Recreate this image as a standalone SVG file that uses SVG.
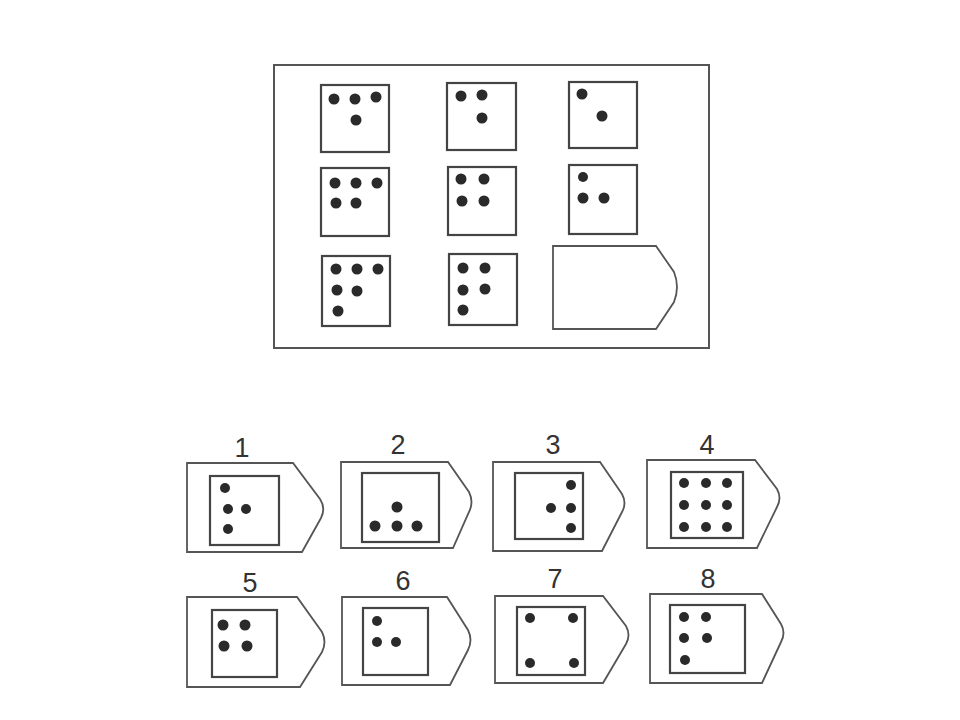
<svg xmlns="http://www.w3.org/2000/svg" width="960" height="720" viewBox="0 0 960 720">
<style>
.frame{fill:#fff;stroke:#555;stroke-width:2}
.sq{fill:#fff;stroke:#444;stroke-width:2.2}
.tag{fill:#fff;stroke:#555;stroke-width:1.8}
.d{fill:#2a2a2a}
.lbl{font-family:"Liberation Sans",Arial,sans-serif;font-size:27px;fill:#333;text-anchor:middle}
</style>
<rect width="960" height="720" fill="#fff"/>
<g id="matrix">
<rect class="frame" x="274" y="65" width="435" height="283"/>
<g id="m11"><rect class="sq" x="321" y="85" width="68" height="67"/>
<circle class="d" cx="334" cy="99" r="5.5"/><circle class="d" cx="355" cy="99" r="5.5"/><circle class="d" cx="376" cy="97" r="5.5"/><circle class="d" cx="356" cy="120" r="5.5"/></g>
<g id="m12"><rect class="sq" x="447" y="83" width="69" height="67"/>
<circle class="d" cx="461" cy="96" r="5.5"/><circle class="d" cx="482" cy="95" r="5.5"/><circle class="d" cx="482" cy="118" r="5.5"/></g>
<g id="m13"><rect class="sq" x="569" y="82" width="68" height="66"/>
<circle class="d" cx="582" cy="94" r="5.5"/><circle class="d" cx="602" cy="116" r="5.5"/></g>
<g id="m21"><rect class="sq" x="321" y="168" width="68" height="68"/>
<circle class="d" cx="335" cy="183" r="5.5"/><circle class="d" cx="356" cy="183" r="5.5"/><circle class="d" cx="377" cy="183" r="5.5"/><circle class="d" cx="336" cy="203" r="5.5"/><circle class="d" cx="356" cy="203" r="5.5"/></g>
<g id="m22"><rect class="sq" x="448" y="167" width="68" height="68"/>
<circle class="d" cx="461" cy="179" r="5.5"/><circle class="d" cx="484" cy="179" r="5.5"/><circle class="d" cx="462" cy="201" r="5.5"/><circle class="d" cx="484" cy="201" r="5.5"/></g>
<g id="m23"><rect class="sq" x="569" y="165" width="68" height="69"/>
<circle class="d" cx="583" cy="177" r="5"/><circle class="d" cx="583" cy="198" r="5.5"/><circle class="d" cx="604" cy="198" r="5.5"/></g>
<g id="m31"><rect class="sq" x="322" y="256" width="68" height="70"/>
<circle class="d" cx="336" cy="269" r="5.5"/><circle class="d" cx="357" cy="269" r="5.5"/><circle class="d" cx="378" cy="269" r="5.5"/><circle class="d" cx="337" cy="290" r="5.5"/><circle class="d" cx="357" cy="291" r="5.5"/><circle class="d" cx="338" cy="311" r="5.5"/></g>
<g id="m32"><rect class="sq" x="449" y="254" width="68" height="71"/>
<circle class="d" cx="463" cy="268" r="5.5"/><circle class="d" cx="485" cy="268" r="5.5"/><circle class="d" cx="463" cy="290" r="5.5"/><circle class="d" cx="485" cy="289" r="5.5"/><circle class="d" cx="463" cy="310" r="5.5"/></g>
<g id="m33"><path class="tag" d="M553,246 H656 L674,272 Q680,287 674,302 L656,329 H553 Z"/></g>
</g>
<g id="opt1"><text class="lbl" x="242" y="457">1</text>
<path class="tag" d="M187,463 H293 L320,499 Q326,508 321,518 L302,552 H187 Z"/>
<rect class="sq" x="210" y="476" width="69" height="69"/>
<circle class="d" cx="225" cy="488" r="5"/><circle class="d" cx="228" cy="509" r="5"/><circle class="d" cx="246" cy="509" r="5"/><circle class="d" cx="228" cy="529" r="5"/></g>
<g id="opt2"><text class="lbl" x="398" y="454">2</text>
<path class="tag" d="M341,462 H448 L469,492 Q474,502 469,512 L453,548 H341 Z"/>
<rect class="sq" x="362" y="473" width="77" height="69"/>
<circle class="d" cx="397" cy="507" r="5.5"/><circle class="d" cx="375" cy="526" r="5.5"/><circle class="d" cx="397" cy="526" r="5.5"/><circle class="d" cx="417" cy="526" r="5.5"/></g>
<g id="opt3"><text class="lbl" x="553" y="454">3</text>
<path class="tag" d="M493,462 H600 L622,494 Q627,503 622,512 L602,551 H493 Z"/>
<rect class="sq" x="515" y="473" width="68" height="66"/>
<circle class="d" cx="571" cy="485" r="5"/><circle class="d" cx="551" cy="508" r="5"/><circle class="d" cx="571" cy="508" r="5"/><circle class="d" cx="571" cy="528" r="5"/></g>
<g id="opt4"><text class="lbl" x="707" y="454">4</text>
<path class="tag" d="M647,460 H755 L777,489 Q782,498 777,507 L757,548 H647 Z"/>
<rect class="sq" x="671" y="472" width="72" height="66"/>
<circle class="d" cx="684" cy="483" r="5"/><circle class="d" cx="706" cy="483" r="5"/><circle class="d" cx="727" cy="483" r="5"/>
<circle class="d" cx="684" cy="505" r="5"/><circle class="d" cx="706" cy="505" r="5"/><circle class="d" cx="727" cy="505" r="5"/>
<circle class="d" cx="684" cy="527" r="5"/><circle class="d" cx="706" cy="527" r="5"/><circle class="d" cx="727" cy="527" r="5"/></g>
<g id="opt5"><text class="lbl" x="250" y="592">5</text>
<path class="tag" d="M187,597 H297 L322,632 Q327,642 322,652 L300,687 H187 Z"/>
<rect class="sq" x="212" y="610" width="65" height="67"/>
<circle class="d" cx="223" cy="625" r="5.5"/><circle class="d" cx="245" cy="625" r="5.5"/><circle class="d" cx="224" cy="646" r="5.5"/><circle class="d" cx="247" cy="646" r="5.5"/></g>
<g id="opt6"><text class="lbl" x="403" y="590">6</text>
<path class="tag" d="M342,597 H447 L468,630 Q473,640 468,650 L450,685 H342 Z"/>
<rect class="sq" x="363" y="608" width="65" height="67"/>
<circle class="d" cx="377" cy="621" r="5"/><circle class="d" cx="377" cy="642" r="5"/><circle class="d" cx="396" cy="642" r="5"/></g>
<g id="opt7"><text class="lbl" x="555" y="588">7</text>
<path class="tag" d="M495,596 H603 L626,626 Q631,635 626,644 L603,683 H495 Z"/>
<rect class="sq" x="517" y="607" width="68" height="68"/>
<circle class="d" cx="530" cy="618" r="5"/><circle class="d" cx="573" cy="618" r="5"/><circle class="d" cx="530" cy="663" r="5"/><circle class="d" cx="574" cy="663" r="5"/></g>
<g id="opt8"><text class="lbl" x="708" y="588">8</text>
<path class="tag" d="M650,594 H762 L781,624 Q786,633 781,642 L762,683 H650 Z"/>
<rect class="sq" x="670" y="605" width="75" height="68"/>
<circle class="d" cx="684" cy="617" r="5"/><circle class="d" cx="706" cy="617" r="5"/><circle class="d" cx="684" cy="638" r="5"/><circle class="d" cx="707" cy="638" r="5"/><circle class="d" cx="685" cy="660" r="5"/></g>
</svg>
